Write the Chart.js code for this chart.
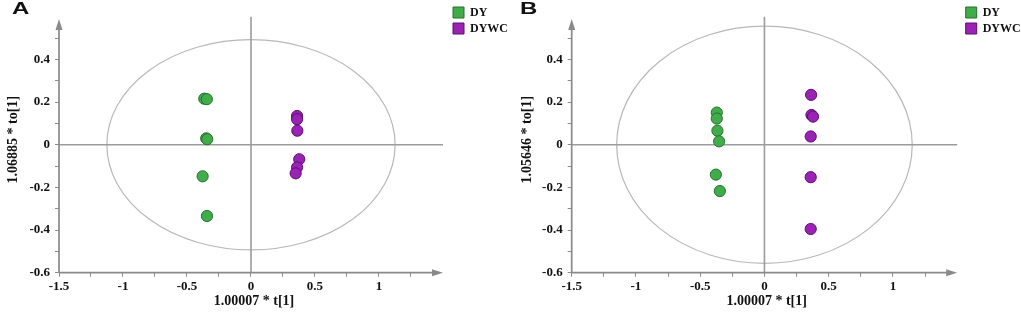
<!DOCTYPE html>
<html><head><meta charset="utf-8">
<script src="https://cdn.jsdelivr.net/npm/chart.js@4.4.0/dist/chart.umd.min.js"></script>
<style>
html,body{margin:0;padding:0;background:#fff;}
#wrap{position:relative;width:1021px;height:318px;overflow:hidden;}
canvas{position:absolute;top:0;}
</style></head><body>
<div id="wrap">
<canvas id="cA" width="510" height="318" style="left:0"></canvas>
<canvas id="cB" width="511" height="318" style="left:510px"></canvas>
</div>
<script>
// ---- data ----
const seriesNames = ['DY', 'DYWC'];
const panelLetters = ['A', 'B'];
const xTitle = '1.00007 * t[1]';
const yTitles = ['1.06885 * to[1]', '1.05646 * to[1]'];
const xTickValues = [-1.5, -1.25, -1, -0.75, -0.5, -0.25, 0, 0.25, 0.5, 0.75, 1, 1.25];
const xTickLabels = [-1.5, -1, -0.5, 0, 0.5, 1];
const yTickValues = [-0.6, -0.5, -0.4, -0.3, -0.2, -0.1, 0, 0.1, 0.2, 0.3, 0.4, 0.5];
const yTickLabels = [-0.6, -0.4, -0.2, 0, 0.2, 0.4];
const xAxisRange = [-1.5, 1.5];
const yAxisRange = [-0.6, 0.6];

const A_DY_x   = [-0.365, -0.345, -0.35, -0.342, -0.378, -0.344];
const A_DY_y   = [0.216, 0.214, 0.030, 0.026, -0.148, -0.334];
const A_DYWC_x = [0.360, 0.360, 0.362, 0.377, 0.360, 0.349];
const A_DYWC_y = [0.135, 0.120, 0.066, -0.068, -0.106, -0.134];
const A_ellipse = [1.126, 0.493];

const B_DY_x   = [-0.371, -0.371, -0.366, -0.353, -0.378, -0.347];
const B_DY_y   = [0.151, 0.123, 0.066, 0.016, -0.140, -0.217];
const B_DYWC_x = [0.363, 0.366, 0.378, 0.360, 0.360, 0.360];
const B_DYWC_y = [0.234, 0.140, 0.132, 0.039, -0.152, -0.395];
const B_ellipse = [1.150, 0.556];

// ---- styling ----
const SERIF = '"Liberation Serif", "Times New Roman", serif';
const GREEN = '#41ac4a', GREEN_EDGE = '#24712c';
const PURPLE = '#9a22b4', PURPLE_EDGE = '#5b0f6e';
const AXIS = '#8a8a8a';

const pts = (xs, ys) => xs.map((x, i) => ({x: x, y: ys[i]}));
const hasLabel = (arr, v) => arr.some(l => Math.abs(l - v) < 1e-9);

function decor(letter, ellipse) {
  return {
    id: 'decor' + letter,
    beforeDatasetsDraw(chart) {
      const {ctx, scales: {x, y}} = chart;
      const px = v => x.getPixelForValue(v), py = v => y.getPixelForValue(v);
      ctx.save();
      // ellipse
      ctx.strokeStyle = '#b8b8b8'; ctx.lineWidth = 1.2;
      ctx.beginPath();
      ctx.ellipse(px(0), py(0), px(ellipse[0]) - px(0), py(0) - py(ellipse[1]), 0, 0, Math.PI * 2);
      ctx.stroke();
      // zero lines
      ctx.strokeStyle = '#9c9c9c'; ctx.lineWidth = 1.6;
      ctx.beginPath();
      ctx.moveTo(px(xAxisRange[0]), py(0)); ctx.lineTo(px(xAxisRange[1]), py(0));
      ctx.moveTo(px(0), py(yAxisRange[0])); ctx.lineTo(px(0), py(yAxisRange[1]));
      ctx.stroke();
      // axes with arrows
      const x0 = px(xAxisRange[0]), y0 = py(yAxisRange[0]);
      const xEnd = px(xAxisRange[1]), yEnd = py(0.59);
      ctx.strokeStyle = AXIS; ctx.lineWidth = 1.7;
      ctx.beginPath();
      ctx.moveTo(x0, y0); ctx.lineTo(xEnd - 8, y0);
      ctx.moveTo(x0, y0); ctx.lineTo(x0, yEnd + 8);
      ctx.stroke();
      ctx.fillStyle = AXIS;
      ctx.beginPath();
      ctx.moveTo(xEnd, y0); ctx.lineTo(xEnd - 11, y0 - 3.5); ctx.lineTo(xEnd - 11, y0 + 3.5); ctx.closePath();
      ctx.fill();
      ctx.beginPath();
      ctx.moveTo(x0, yEnd); ctx.lineTo(x0 - 3.5, yEnd + 11); ctx.lineTo(x0 + 3.5, yEnd + 11); ctx.closePath();
      ctx.fill();
      ctx.restore();
    },
    afterDraw(chart) {
      const ctx = chart.ctx;
      ctx.save();
      ctx.fillStyle = '#111';
      ctx.font = 'bold 16px "Liberation Sans", Arial, sans-serif';
      ctx.textBaseline = 'top';
      ctx.translate(letter === 'A' ? 12 : 10, 2);
      ctx.scale(1.5, 1);
      ctx.fillText(letter, 0, 0);
      ctx.restore();
    }
  };
}

function makeChart(id, p) {
  return new Chart(document.getElementById(id), {
    type: 'scatter',
    data: {
      datasets: [
        {label: seriesNames[0], data: pts(p.dyx, p.dyy), backgroundColor: GREEN, borderColor: GREEN_EDGE,
         borderWidth: 1, pointRadius: 5.6, pointHoverRadius: 5.6},
        {label: seriesNames[1], data: pts(p.wx, p.wy), backgroundColor: PURPLE, borderColor: PURPLE_EDGE,
         borderWidth: 1, pointRadius: 5.6, pointHoverRadius: 5.6}
      ]
    },
    options: {
      responsive: false, animation: false, events: [],
      layout: {padding: {top: 2.5, left: 0, right: 0, bottom: 0}},
      plugins: {
        tooltip: {enabled: false},
        legend: {
          position: 'right', align: 'start', maxWidth: p.legendW,
          labels: {boxWidth: 11, boxHeight: 11, padding: 4, color: '#111',
                   font: {family: SERIF, size: 12, weight: 'bold'}}
        }
      },
      scales: {
        x: {
          type: 'linear', position: 'bottom', min: -1.5, max: p.xMax,
          afterBuildTicks(s) { s.ticks = xTickValues.map(v => ({value: v})); },
          afterFit(s) { s.height = 45.3; s.paddingLeft = 0; s.paddingRight = 0; },
          grid: {display: true, drawOnChartArea: false, drawTicks: true, tickLength: 4, color: AXIS, lineWidth: 1},
          border: {display: false},
          ticks: {autoSkip: false, maxRotation: 0, padding: 2, color: '#111',
                  font: {family: SERIF, size: 13, weight: 'bold'},
                  callback: v => hasLabel(xTickLabels, v) ? String(v) : ''},
          title: {display: true, text: xTitle, color: '#111', font: {family: SERIF, size: 14, weight: 'bold'},
                  padding: {top: 0, bottom: 8.5}}
        },
        y: {
          type: 'linear', position: 'left', min: -0.6, max: 0.648,
          afterBuildTicks(s) { s.ticks = yTickValues.map(v => ({value: v})); },
          afterFit(s) { s.width = p.yW; s.paddingTop = 0; s.paddingBottom = 0; },
          grid: {display: true, drawOnChartArea: false, drawTicks: true, tickLength: 4, color: AXIS, lineWidth: 1},
          border: {display: false},
          ticks: {autoSkip: false, padding: 5, color: '#111',
                  font: {family: SERIF, size: 13, weight: 'bold'},
                  callback: v => hasLabel(yTickLabels, v) ? String(v) : ''},
          title: {display: true, text: p.yTitle, color: '#111', font: {family: SERIF, size: 14, weight: 'bold'},
                  padding: {top: p.yTitlePad, bottom: 0}}
        }
      }
    },
    plugins: [decor(p.letter, p.ellipse)]
  });
}

makeChart('cA', {letter: panelLetters[0], dyx: A_DY_x, dyy: A_DY_y, wx: A_DYWC_x, wy: A_DYWC_y,
  ellipse: A_ellipse, yTitle: yTitles[0], legendW: 61, xMax: 1.547, yW: 59, yTitlePad: 5});
makeChart('cB', {letter: panelLetters[1], dyx: B_DY_x, dyy: B_DY_y, wx: B_DYWC_x, wy: B_DYWC_y,
  ellipse: B_ellipse, yTitle: yTitles[1], legendW: 59.3, xMax: 1.535, yW: 61.7, yTitlePad: 9});
</script>
</body></html>
